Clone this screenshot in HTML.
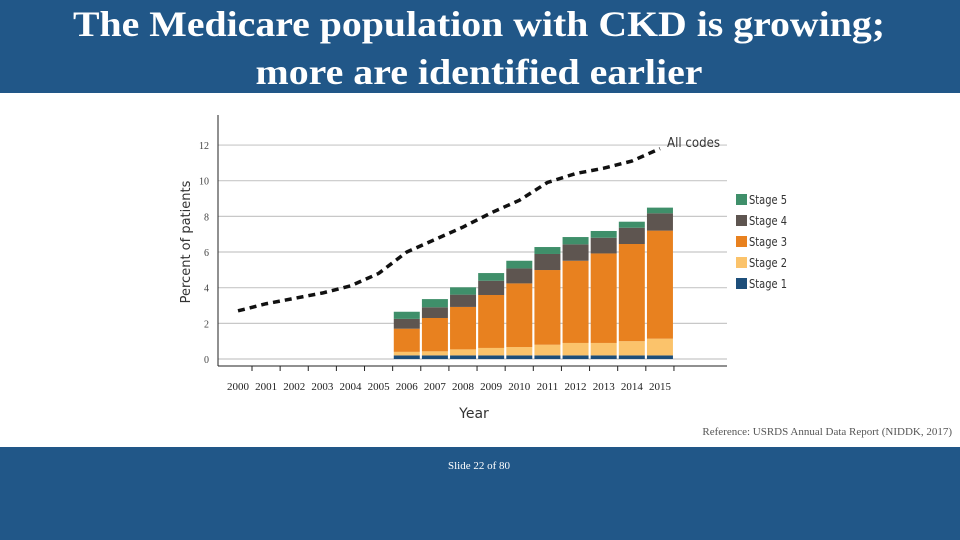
<!DOCTYPE html>
<html><head><meta charset="utf-8"><style>
html,body{margin:0;padding:0;background:#fff;}
svg{display:block;}
</style></head><body>
<svg id="slide" width="960" height="540" xmlns="http://www.w3.org/2000/svg">
<rect x="0" y="0" width="960" height="93" fill="#215788"/>
<text x="479" y="36" text-anchor="middle" font-family="Liberation Serif, serif" font-weight="bold" font-size="36" fill="#fff" textLength="812" lengthAdjust="spacingAndGlyphs">The Medicare population with CKD is growing;</text>
<text x="479" y="84" text-anchor="middle" font-family="Liberation Serif, serif" font-weight="bold" font-size="36" fill="#fff" textLength="447" lengthAdjust="spacingAndGlyphs">more are identified earlier</text>
<rect x="0" y="447" width="960" height="93" fill="#215788"/>
<text x="479" y="469" text-anchor="middle" font-family="Liberation Serif, serif" font-size="11" fill="#fff">Slide 22 of 80</text>
<text x="952" y="435" text-anchor="end" font-family="Liberation Serif, serif" font-size="11" fill="#555">Reference: USRDS Annual Data Report (NIDDK, 2017)</text>
<g id="chart"></g>
</svg>
<script>
const years = [2000,2001,2002,2003,2004,2005,2006,2007,2008,2009,2010,2011,2012,2013,2014,2015];
const allCodes = [2.7,3.1,3.4,3.7,4.1,4.8,6.0,6.7,7.4,8.2,8.9,9.9,10.4,10.7,11.1,11.8];
const barYears = [2006,2007,2008,2009,2010,2011,2012,2013,2014,2015];
const stage1 = [0.2,0.2,0.2,0.2,0.2,0.2,0.2,0.2,0.2,0.2];
const stage2 = [0.2,0.23,0.34,0.42,0.47,0.6,0.7,0.7,0.8,0.94];
const stage3 = [1.3,1.87,2.38,2.97,3.57,4.19,4.61,5.02,5.45,6.06];
const stage4 = [0.55,0.6,0.69,0.8,0.84,0.9,0.92,0.88,0.91,0.97];
const stage5 = [0.4,0.46,0.41,0.43,0.43,0.39,0.41,0.38,0.34,0.32];
const yTicks = [0,2,4,6,8,10,12];
const stageNames = ["Stage 5","Stage 4","Stage 3","Stage 2","Stage 1"];
const stageColors = ["#3f8f6a","#5e5550","#e8811f","#fbc36b","#1d4e7a"];

const NS="http://www.w3.org/2000/svg";
const g=document.getElementById('chart');
const X=y=>238+(y-2000)*28.13;
const Y=v=>359-v*17.83;
function mk(t,a,p){const e=document.createElementNS(NS,t);for(const k in a)e.setAttribute(k,a[k]);(p||g).appendChild(e);return e;}

yTicks.forEach(v=>{
  const l=mk('line',{x1:218,x2:727,y1:Y(v),y2:Y(v),stroke:'#c8c8c8','stroke-width':1.2});
  
  
  const t=mk('text',{x:209,y:Y(v)+4,'text-anchor':'end','font-family':'Liberation Serif, serif','font-size':10,fill:'#444'});
  t.textContent=v;
  
  
});
const ya=mk('line',{x1:218,x2:218,y1:115,y2:366,stroke:'#222','stroke-width':1});


const xa=mk('line',{x1:218,x2:727,y1:366,y2:366,stroke:'#222','stroke-width':1});


years.forEach(y=>{
  const tk=mk('line',{x1:X(y)+14,x2:X(y)+14,y1:366,y2:371,stroke:'#222'});
  
  
  const t=mk('text',{x:X(y),y:390,'text-anchor':'middle','font-family':'Liberation Serif, serif','font-size':11,fill:'#222'});
  t.textContent=y;
  
  
});
const xt=mk('text',{x:474,y:418,'text-anchor':'middle','font-family':'DejaVu Sans, sans-serif','font-size':14,fill:'#333'});
xt.textContent='Year';


const yt=mk('text',{x:0,y:0,'text-anchor':'middle','font-family':'DejaVu Sans, sans-serif','font-size':13,fill:'#333',transform:'translate(190,242) rotate(-90)'});
yt.textContent='Percent of patients';



const series=[stage1,stage2,stage3,stage4,stage5];
const cols=[stageColors[4],stageColors[3],stageColors[2],stageColors[1],stageColors[0]];
barYears.forEach((yr,i)=>{
  let c=0;
  series.forEach((s,k)=>{
    const r=mk('rect',{x:X(yr)-13,width:26,y:Y(c+s[i]),height:Y(c)-Y(c+s[i]),fill:cols[k]});
    
    
    c+=s[i];
  });
});

const pts=years.map((y,i)=>X(y)+','+Y(allCodes[i])).join(' ');
const pl=mk('polyline',{points:pts,fill:'none',stroke:'#111','stroke-width':3.5,'stroke-dasharray':'7,5'});


const lt=mk('text',{x:667,y:147,'font-family':'DejaVu Sans, sans-serif','font-size':13,fill:'#333',textLength:53,lengthAdjust:'spacingAndGlyphs'});
lt.textContent='All codes';



stageNames.forEach((n,i)=>{
  const yy=194+i*21;
  const sq=mk('rect',{x:736,y:yy,width:11,height:11,fill:stageColors[i]});
  
  
  const t=mk('text',{x:749,y:yy+10,'font-family':'DejaVu Sans, sans-serif','font-size':12,fill:'#333',textLength:38,lengthAdjust:'spacingAndGlyphs'});
  t.textContent=n;
  
  
});
</script>
</body></html>
